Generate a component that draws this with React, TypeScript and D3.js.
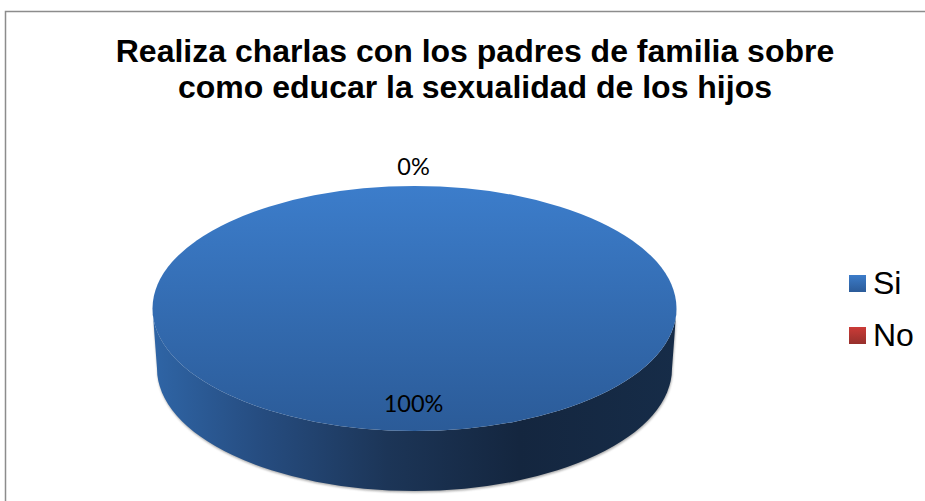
import React from "react";
import * as d3 from "d3";

const categories = ["Si", "No"];
const values = [100, 0];
const valueLabels = ["100%", "0%"];
const titleLines = [
  "Realiza charlas con los padres de familia sobre",
  "como educar la sexualidad de los hijos",
];
const legendTop = ["#3c7cc9", "#cb3b37"];
const legendBottom = ["#2b5b99", "#96302c"];

const W = 925;
const H = 501;
const cx = 414.5;
const cy = 308.5;
const rx = 262;
const ry = 122.5;
const depth = 60;
const bottomRx = 257.5;

export default function App() {
  const pie = d3.pie<number>().sort(null).startAngle(0).endAngle(2 * Math.PI);
  const arcs = pie(values);
  const unitArc = d3.arc<d3.PieArcDatum<number>>().innerRadius(0).outerRadius(1);
  const legendY = d3.scalePoint<string>().domain(categories).range([283.5, 335.5]);

  const side = `M${cx - rx},${cy} L${cx - bottomRx},${cy + depth} A${bottomRx},${ry} 0 0 0 ${cx + bottomRx},${cy + depth} L${cx + rx},${cy} A${rx},${ry} 0 0 1 ${cx - rx},${cy} Z`;

  return (
    <svg
      width={W}
      height={H}
      style={{ position: "absolute", left: 0, top: 0, background: "#fff", display: "block" }}
    >
      <defs>
        <linearGradient id="top" x1="0" y1="0" x2="0" y2="1">
          <stop offset="0" stopColor="#3c7dcb" />
          <stop offset="1" stopColor="#2b5b98" />
        </linearGradient>
        <linearGradient id="side" gradientUnits="userSpaceOnUse" x1={cx - rx} x2={cx + rx} y1="0" y2="0">
          <stop offset="0" stopColor="#2f65a6" />
          <stop offset="0.2" stopColor="#264d81" />
          <stop offset="0.45" stopColor="#1c3557" />
          <stop offset="0.7" stopColor="#14263f" />
          <stop offset="1" stopColor="#162c48" />
        </linearGradient>
        <filter id="blur" x="-5%" y="-5%" width="110%" height="110%">
          <feGaussianBlur stdDeviation="1.2" />
        </filter>
        {categories.map((c, i) => (
          <linearGradient key={c} id={`lg${i}`} x1="0" y1="0" x2="0" y2="1">
            <stop offset="0" stopColor={legendTop[i]} />
            <stop offset="1" stopColor={legendBottom[i]} />
          </linearGradient>
        ))}
      </defs>

      <path d="M5.5,501 L5.5,11.5 L925,11.5" fill="none" stroke="#8c8c8c" strokeWidth={1.5} />

      <g
        fontFamily="'Liberation Sans', Arial, sans-serif"
        fontWeight="bold"
        fontSize={32}
        textAnchor="middle"
        fill="#000"
      >
        {titleLines.map((t, i) => (
          <text key={t} x={475} y={62 + i * 36}>
            {t}
          </text>
        ))}
      </g>

      <path d={side} transform="translate(0.5,1.5)" fill="#666" opacity={0.55} filter="url(#blur)" />
      <path d={side} fill="url(#side)" />
      <g transform={`translate(${cx},${cy}) scale(${rx},${ry})`}>
        {arcs.map((a, i) =>
          a.value > 0 ? <path key={categories[i]} d={unitArc(a) || ""} fill="url(#top)" /> : null
        )}
      </g>

      <g fontFamily="Lato, 'Open Sans', sans-serif" fontSize={23.5} textAnchor="middle" fill="#000">
        <text x={413.5} y={174.5}>{valueLabels[1]}</text>
        <text x={413.5} y={412}>{valueLabels[0]}</text>
      </g>

      <g fontFamily="'Liberation Sans', Arial, sans-serif" fontSize={32} fill="#000">
        {categories.map((c, i) => (
          <g key={c}>
            <rect x={849} y={legendY(c)! - 8.5} width={17} height={17} fill={`url(#lg${i})`} />
            <text x={873} y={legendY(c)! + 10.5}>{c}</text>
          </g>
        ))}
      </g>
    </svg>
  );
}
